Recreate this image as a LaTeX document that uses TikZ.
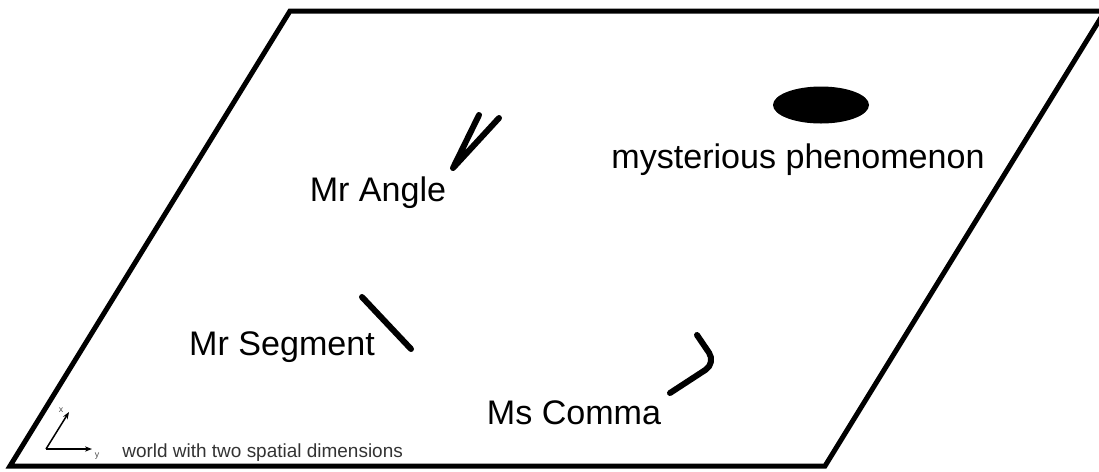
\documentclass[tikz,border=0pt]{standalone}
\usepackage{fontspec}
\setmainfont{Liberation Sans}
\usetikzlibrary{arrows.meta}
\tikzset{
  bigtext/.style={font=\fontsize{19.4}{22}\selectfont},
  smalltext/.style={font=\fontsize{10.8}{12}\selectfont, text=black!80},
  thing/.style={line width=0.12cm, line cap=round, line join=round}
}

\begin{document}
\begin{tikzpicture}[x=0.02cm, y=-0.02cm]
			%%%%% START %%%%%
			\useasboundingbox (0, 0) rectangle (1099, 471);
			
			% the plane
			\draw[line width=0.1cm, line join=miter] (290, 11) -- (1105, 11) -- (825, 466) -- (10, 466) -- cycle;
			
			% mysterious phenomenon
			\fill[black] (821, 105) ellipse (48 and 18.5);
			\node[bigtext] (phenomenon) at (798, 160) {mysterious phenomenon};
			
			% Mr Angle
			\draw[thing] (479, 115) -- (453, 168) -- (499, 118);
			\node[bigtext] (angle) at (378, 193) {Mr Angle};
			
			% Mr Segment
			\draw[thing] (362, 297) -- (411, 349);
			\node[bigtext] (segment) at (282, 347) {Mr Segment};
			
			% Ms Comma
			\draw[thing, rounded corners=0.25cm] (697, 335) -- (716, 363) -- (670, 393);
			\node[bigtext] (comma) at (574, 413) {Ms Comma};
			
			% axes
			\coordinate (origin) at (46, 449);
			\draw[line width=0.03cm, -{Stealth[length=4pt]}] (origin) -- (92, 449) coordinate (ytip);
			\draw[line width=0.03cm, -{Stealth[length=4pt]}] (origin) -- (69, 412) coordinate (xtip);
			\node[font=\fontsize{5}{5}\selectfont, text=black!70] (ylabel) at (97, 456) {y};
			\node[font=\fontsize{5}{5}\selectfont, text=black!70] (xlabel) at (61, 410) {x};
			\node[smalltext, anchor=west, inner sep=0pt] (world) at (122, 453) {world with two spatial dimensions};
			%%%%% END %%%%%
\end{tikzpicture}
\end{document}
